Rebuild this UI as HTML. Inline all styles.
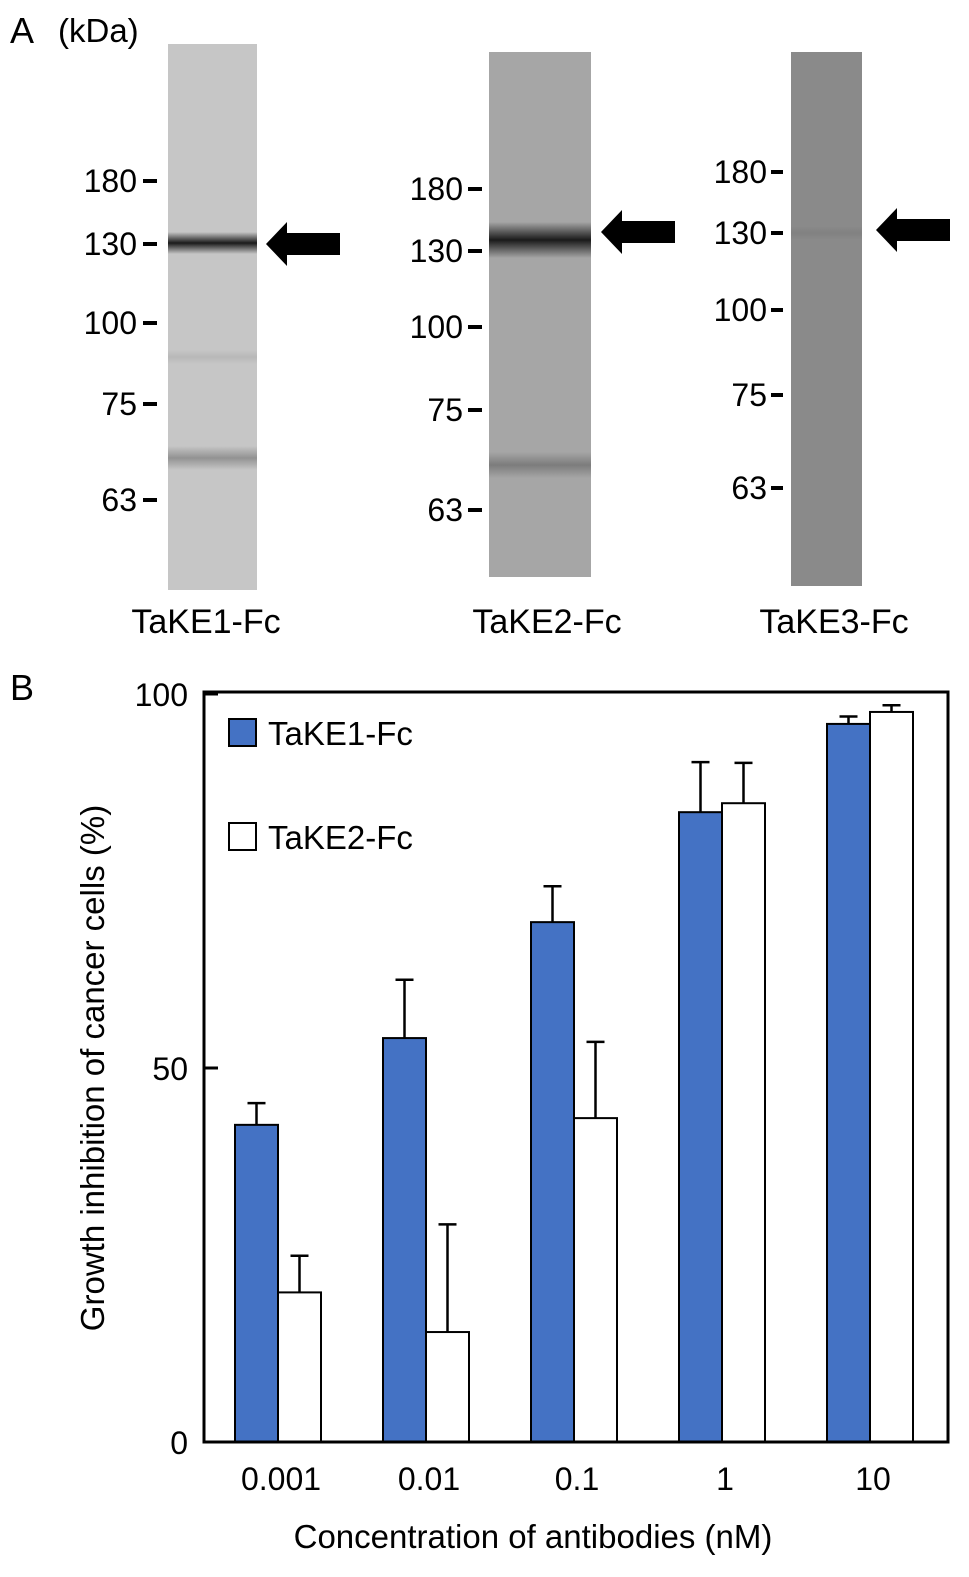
<!DOCTYPE html>
<html><head><meta charset="utf-8"><style>
body{margin:0;background:#fff;}
svg{display:block;font-family:"Liberation Sans",sans-serif;}
</style></head><body>
<svg width="969" height="1577" viewBox="0 0 969 1577">
<defs>
<linearGradient id="b1" x1="0" y1="0" x2="0" y2="1"><stop offset="0" stop-color="#1a1a1a" stop-opacity="0"/><stop offset="0.5" stop-color="#1a1a1a"/><stop offset="1" stop-color="#1a1a1a" stop-opacity="0"/></linearGradient>
</defs>
<g>
<text x="10" y="43" font-size="36">A</text>
<text x="58" y="42" font-size="33">(kDa)</text>
<rect x="168" y="44" width="89" height="546" fill="#c6c6c6"/>
<rect x="168" y="232" width="89" height="22" fill="url(#b1)"/>
<rect x="168" y="446" width="89" height="24" fill="url(#b1)" opacity="0.3"/>
<rect x="168" y="350" width="89" height="14" fill="url(#b1)" opacity="0.08"/>
<rect x="489" y="52" width="102" height="525" fill="#a6a6a6"/>
<rect x="489" y="222" width="102" height="36" fill="url(#b1)"/>
<rect x="489" y="452" width="102" height="26" fill="url(#b1)" opacity="0.3"/>
<rect x="791" y="52" width="71" height="534" fill="#8a8a8a"/>
<rect x="791" y="226" width="71" height="14" fill="url(#b1)" opacity="0.08"/>
<g font-size="32" text-anchor="end">
<text x="137" y="192">180</text><rect x="143" y="179" width="14" height="4"/>
<text x="137" y="255">130</text><rect x="143" y="242" width="14" height="4"/>
<text x="137" y="334">100</text><rect x="143" y="321" width="14" height="4"/>
<text x="137" y="415">75</text><rect x="143" y="402" width="14" height="4"/>
<text x="137" y="511">63</text><rect x="143" y="498" width="14" height="4"/>
</g>
<g font-size="32" text-anchor="end">
<text x="463" y="200">180</text><rect x="468" y="187" width="14" height="4"/>
<text x="463" y="262">130</text><rect x="468" y="249" width="14" height="4"/>
<text x="463" y="338">100</text><rect x="468" y="325" width="14" height="4"/>
<text x="463" y="421">75</text><rect x="468" y="408" width="14" height="4"/>
<text x="463" y="521">63</text><rect x="468" y="508" width="14" height="4"/>
</g>
<g font-size="32" text-anchor="end">
<text x="767" y="183">180</text><rect x="771" y="170" width="12" height="4"/>
<text x="767" y="244">130</text><rect x="771" y="231" width="12" height="4"/>
<text x="767" y="321">100</text><rect x="771" y="308" width="12" height="4"/>
<text x="767" y="406">75</text><rect x="771" y="393" width="12" height="4"/>
<text x="767" y="499">63</text><rect x="771" y="486" width="12" height="4"/>
</g>
<polygon points="266,244 287,222 287,233 340,233 340,255 287,255 287,266"/>
<polygon points="601,232 622,210 622,221 675,221 675,243 622,243 622,254"/>
<polygon points="876,230 897,208 897,219 950,219 950,241 897,241 897,252"/>
<g font-size="34" text-anchor="middle">
<text x="206" y="633">TaKE1-Fc</text>
<text x="547" y="633">TaKE2-Fc</text>
<text x="834" y="633">TaKE3-Fc</text>
</g>
</g>
<text x="10" y="700" font-size="36">B</text>
<g id="chart"></g>
</svg>
<script>
const categories=["0.001","0.01","0.1","1","10"];
const take1Values=[42.4,54,69.5,84.2,96];
const take1Errors=[2.9,7.8,4.8,6.7,1];
const take2Values=[20,14.7,43.3,85.4,97.6];
const take2Errors=[4.9,14.4,10.2,5.4,0.9];
const yTicks=[0,50,100];
const NS="http://www.w3.org/2000/svg";
const g=document.getElementById('chart');
const L=204,R=948,T=692,B=1442;
function y(v){return B-(v/100)*(B-694);}
function xc(i){return 278+i*148;}
function mk(t,a){const e=document.createElementNS(NS,t);for(const k in a)e.setAttribute(k,a[k]);g.appendChild(e);return e;}
const bw=43;
function bar(i,v,err,fill,off,nm){
  const x=xc(i)+off;
  let l=mk('line',{x1:x+bw/2,x2:x+bw/2,y1:y(v),y2:y(v+err),stroke:'#000','stroke-width':2.5});
  
  
  l=mk('line',{x1:x+bw/2-9,x2:x+bw/2+9,y1:y(v+err),y2:y(v+err),stroke:'#000','stroke-width':2.5});
  
  
  const r=mk('rect',{x:x,y:y(v),width:bw,height:B-y(v),fill:fill,stroke:'#000','stroke-width':2});
  
  
}
categories.forEach((c,i)=>{
  bar(i,take1Values[i],take1Errors[i],'#4472c4',-bw,'bar-take1-'+c);
  bar(i,take2Values[i],take2Errors[i],'#ffffff',0,'bar-take2-'+c);
  const t=mk('text',{x:xc(i)+3,y:1490,'font-size':32,'text-anchor':'middle'});
  t.textContent=c;
  
  
});
const fr=mk('rect',{x:L,y:T,width:R-L,height:B-T,fill:'none',stroke:'#000','stroke-width':3});


yTicks.forEach(v=>{
  const ln=mk('line',{x1:L,x2:L+14,y1:y(v),y2:y(v),stroke:'#000','stroke-width':3});
  
  
  const t=mk('text',{x:188,y:y(v)+12,'font-size':32,'text-anchor':'end'});
  t.textContent=v;
  
  
});
let yt=mk('text',{x:0,y:0,'font-size':33,'text-anchor':'middle',transform:'translate(104,1068) rotate(-90)'});
yt.textContent='Growth inhibition of cancer cells (%)';


let xt=mk('text',{x:533,y:1548,'font-size':33,'text-anchor':'middle'});
xt.textContent='Concentration of antibodies (nM)';


[['TaKE1-Fc','#4472c4',719],['TaKE2-Fc','#ffffff',823]].forEach(([n,f,yy])=>{
  const r=mk('rect',{x:229,y:yy,width:27,height:27,fill:f,stroke:'#000','stroke-width':2});
  
  
  const t=mk('text',{x:268,y:yy+26,'font-size':33});
  t.textContent=n;
  
  
});
</script>
</body></html>
